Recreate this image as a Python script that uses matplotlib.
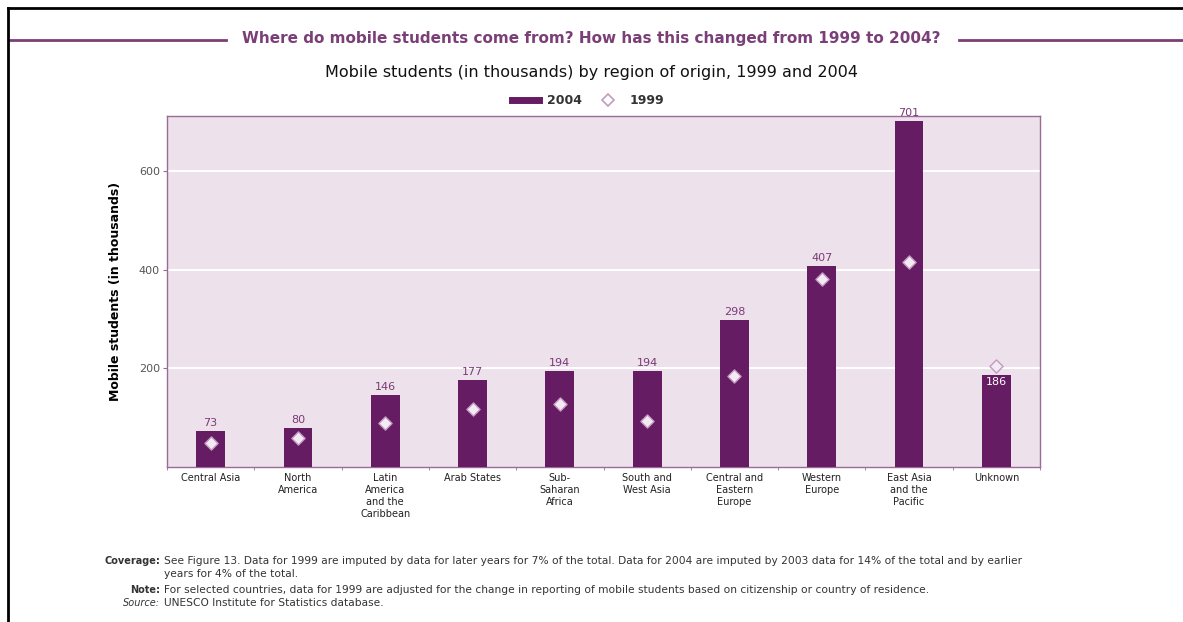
import numpy as np
import matplotlib
matplotlib.use('Agg')
from matplotlib import pyplot as plt
from matplotlib.lines import Line2D

regions = ['Central Asia', 'North\nAmerica', 'Latin\nAmerica\nand the\nCaribbean', 'Arab States',
           'Sub-\nSaharan\nAfrica', 'South and\nWest Asia', 'Central and\nEastern\nEurope',
           'Western\nEurope', 'East Asia\nand the\nPacific', 'Unknown']
students_2004 = [73, 80, 146, 177, 194, 194, 298, 407, 701, 186]
students_1999 = [49, 59, 89, 118, 128, 93, 185, 382, 415, 205]
y_ticks = [200, 400, 600]

bar_col = '#661c62'
label_col = '#7a3a77'
bg_col = '#ede1ec'
rule_col = '#7b3f78'

fig = plt.figure(figsize=(11.83, 6.22), dpi=100, facecolor='white')
ax = fig.add_axes([167/1183, 1 - 467/622, (1040 - 167)/1183, (467 - 116)/622])
ax.set_facecolor(bg_col)

x = np.arange(len(regions))
ax.bar(x, students_2004, width=0.33, color=bar_col, zorder=3)
ax.scatter(x, students_1999, marker='D', s=45, facecolor='#f4eaf3', edgecolor='#c39bc1',
           linewidth=1, zorder=4)

for i, v in enumerate(students_2004):
    if regions[i] == 'Unknown':
        ax.text(i, v - 4, str(v), ha='center', va='top', color='white', fontsize=8, zorder=5)
    else:
        ax.text(i, v + 6, str(v), ha='center', va='bottom', color=label_col, fontsize=8, zorder=5)

ax.set_xlim(-0.5, len(regions) - 0.5)
ax.set_ylim(0, 712)
ax.set_yticks(y_ticks)
ax.set_yticklabels([str(t) for t in y_ticks], color='#555555', fontsize=8)
ax.yaxis.grid(True, color='white', linewidth=1.5, zorder=1)
ax.set_axisbelow(True)
ax.set_xticks(x)
ax.set_xticklabels(regions, fontsize=7, color='#222222', linespacing=1.25)
ax.set_xticks(np.arange(-0.5, len(regions)), minor=True)
ax.tick_params(axis='x', which='major', length=0, pad=4)
ax.tick_params(axis='x', which='minor', length=2, color='#9b6b98')
ax.tick_params(axis='y', length=3, color='#9b6b98', pad=2)
for s in ax.spines.values():
    s.set_color('#9b6b98')
    s.set_linewidth(1)
ax.set_ylabel('Mobile students (in thousands)', fontsize=9, fontweight='bold', labelpad=12)

# titles
fig.text(0.5, 1 - 39/622, 'Where do mobile students come from? How has this changed from 1999 to 2004?',
         ha='center', va='center', fontsize=11.0, fontweight='bold', color=rule_col)
fig.text(0.5, 1 - 73/622, 'Mobile students (in thousands) by region of origin, 1999 and 2004',
         ha='center', va='center', fontsize=11.5, color='#111111')
fig.add_artist(Line2D([10/1183, 226/1183], [1 - 40/622] * 2, color=rule_col, lw=2))
fig.add_artist(Line2D([959/1183, 1.0], [1 - 40/622] * 2, color=rule_col, lw=2))

# frame lines of the page
fig.add_artist(Line2D([8/1183, 1.0], [1 - 8/622] * 2, color='black', lw=2))
fig.add_artist(Line2D([8/1183] * 2, [0, 1 - 8/622], color='black', lw=2))

handles = [Line2D([], [], color=bar_col, lw=5),
           Line2D([], [], marker='D', ls='none', markersize=6, markerfacecolor='white',
                  markeredgecolor='#c39bc1', markeredgewidth=1.2)]
fig.legend(handles, ['2004', '1999'], loc='center', bbox_to_anchor=(588/1183, 1 - 101/622),
           ncol=2, frameon=False, handlelength=2.2, handletextpad=0.6, columnspacing=1.0,
           prop={'weight': 'bold', 'size': 9}, labelcolor='#333333')

# footnotes
notes = [
    ('Coverage:', 'See Figure 13. Data for 1999 are imputed by data for later years for 7% of the total. '
                  'Data for 2004 are imputed by 2003 data for 14% of the total and by earlier', 561, 'bold', 'normal'),
    ('', 'years for 4% of the total.', 574, 'bold', 'normal'),
    ('Note:', 'For selected countries, data for 1999 are adjusted for the change in reporting of mobile '
              'students based on citizenship or country of residence.', 590, 'bold', 'normal'),
    ('Source:', 'UNESCO Institute for Statistics database.', 603, 'normal', 'italic'),
]
for lab, txt, ypix, w, st in notes:
    if lab:
        fig.text(160/1183, 1 - ypix/622, lab, ha='right', va='center', fontsize=7,
                 fontweight=w, fontstyle=st, color='#333333')
    fig.text(164/1183, 1 - ypix/622, txt, ha='left', va='center', fontsize=7.7, color='#333333')

fig.savefig('out.png', dpi=100, facecolor='white')
